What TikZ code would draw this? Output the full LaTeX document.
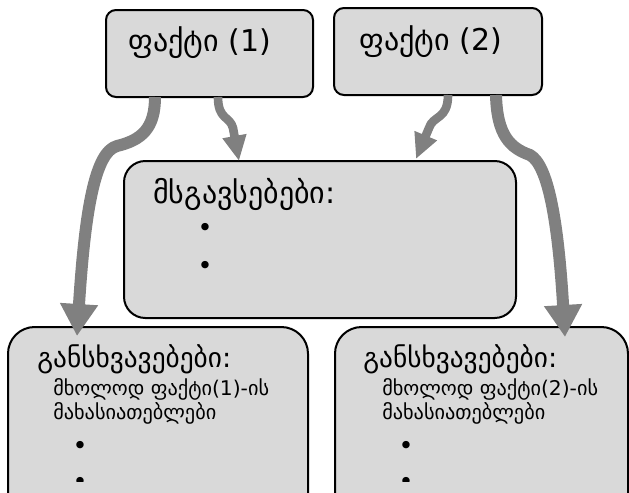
\documentclass[tikz,border=0pt]{standalone}
\usepackage{fontspec}
\setmainfont{DejaVu Sans}
\usetikzlibrary{arrows.meta,calc}
\definecolor{boxgray}{RGB}{217,217,217}
\definecolor{arrowgray}{RGB}{128,128,128}
\begin{document}
\begin{tikzpicture}[x=0.75pt,y=-0.75pt,
  box/.style={draw=black, line width=1.5pt, fill=boxgray, shape=rectangle, inner sep=0pt, outer sep=0pt, anchor=north west},
  bigarrow/.style={draw=arrowgray, line width=9pt, line join=round, -{Triangle[length=24pt,width=27pt]}},
  smallarrow/.style={draw=arrowgray, line width=6.5pt, line join=round, -{Triangle[length=19pt,width=17pt]}},
  head/.style={anchor=base west, font=\fontsize{22.5}{27}\selectfont, inner sep=0pt},
  lowhead/.style={anchor=base west, font=\fontsize{20.5}{25}\selectfont, inner sep=0pt},
  body/.style={anchor=base west, font=\fontsize{15.2}{19}\selectfont, inner sep=0pt},
  bul/.style={anchor=center, font=\fontsize{19}{19}\selectfont, inner sep=0pt}]
\useasboundingbox (0,0) rectangle (629,493);
\clip (0,0) rectangle (629,493);
% boxes
\node[box, rounded corners=7.5pt, minimum width=155.25pt, minimum height=65.25pt] (f1) at (106,10) {};
\node[box, rounded corners=7.5pt, minimum width=156pt, minimum height=65.25pt] (f2) at (334,8) {};
\node[box, rounded corners=16pt, minimum width=294pt, minimum height=117.75pt] (mid) at (124,161) {};
\node[box, rounded corners=20pt, minimum width=225pt, minimum height=150pt] (bl) at (8,327) {};
\node[box, rounded corners=20pt, minimum width=219.75pt, minimum height=150pt] (br) at (335,327) {};
% arrows
\draw[bigarrow] ($(f1.south west)+(49,0)$) .. controls (155,128) and (142,140) .. (117,146)
   .. controls (95,152) and (85,210) .. ($(bl.north west)+(69,9)$);
\draw[smallarrow] ($(f1.south west)+(112,0)$) .. controls (218,120) and (230,116) .. (233,128)
   -- ($(mid.north west)+(115,0)$);
\draw[smallarrow] ($(f2.south west)+(114,0)$) .. controls (448,120) and (433,115) .. (429,128)
   -- ($(mid.north west)+(292,-2)$);
\draw[bigarrow] ($(f2.south west)+(162,0)$) .. controls (497,135) and (510,148) .. (530,155)
   .. controls (548,165) and (558,220) .. ($(br.north west)+(230,10)$);
% texts
\node[head] (t1) at (128,51) {ფაქტი (1)};
\node[head] (t2) at (359,50) {ფაქტი (2)};
\node[head] (t3) at (153,203) {მსგავსებები:};
\node[bul] (b1) at (205,230) {•};
\node[bul] (b2) at (205,268) {•};
\node[lowhead] (t4) at (37,367) {განსხვავებები:};
\node[body] (t5) at (53,395) {მხოლოდ ფაქტი(1)-ის};
\node[body] (t6) at (53,419) {მახასიათებლები};
\node[lowhead] (t7) at (363,367) {განსხვავებები:};
\node[body] (t8) at (382,395) {მხოლოდ ფაქტი(2)-ის};
\node[body] (t9) at (382,419) {მახასიათებლები};
\node[bul] (b3) at (80,448) {•};
\node[bul] (b4) at (406,448) {•};
\begin{scope}
\clip (0,0) rectangle (629,481);
\node[bul] (b5) at (80,484) {•};
\node[bul] (b6) at (406,484) {•};
\end{scope}
\end{tikzpicture}
\end{document}
